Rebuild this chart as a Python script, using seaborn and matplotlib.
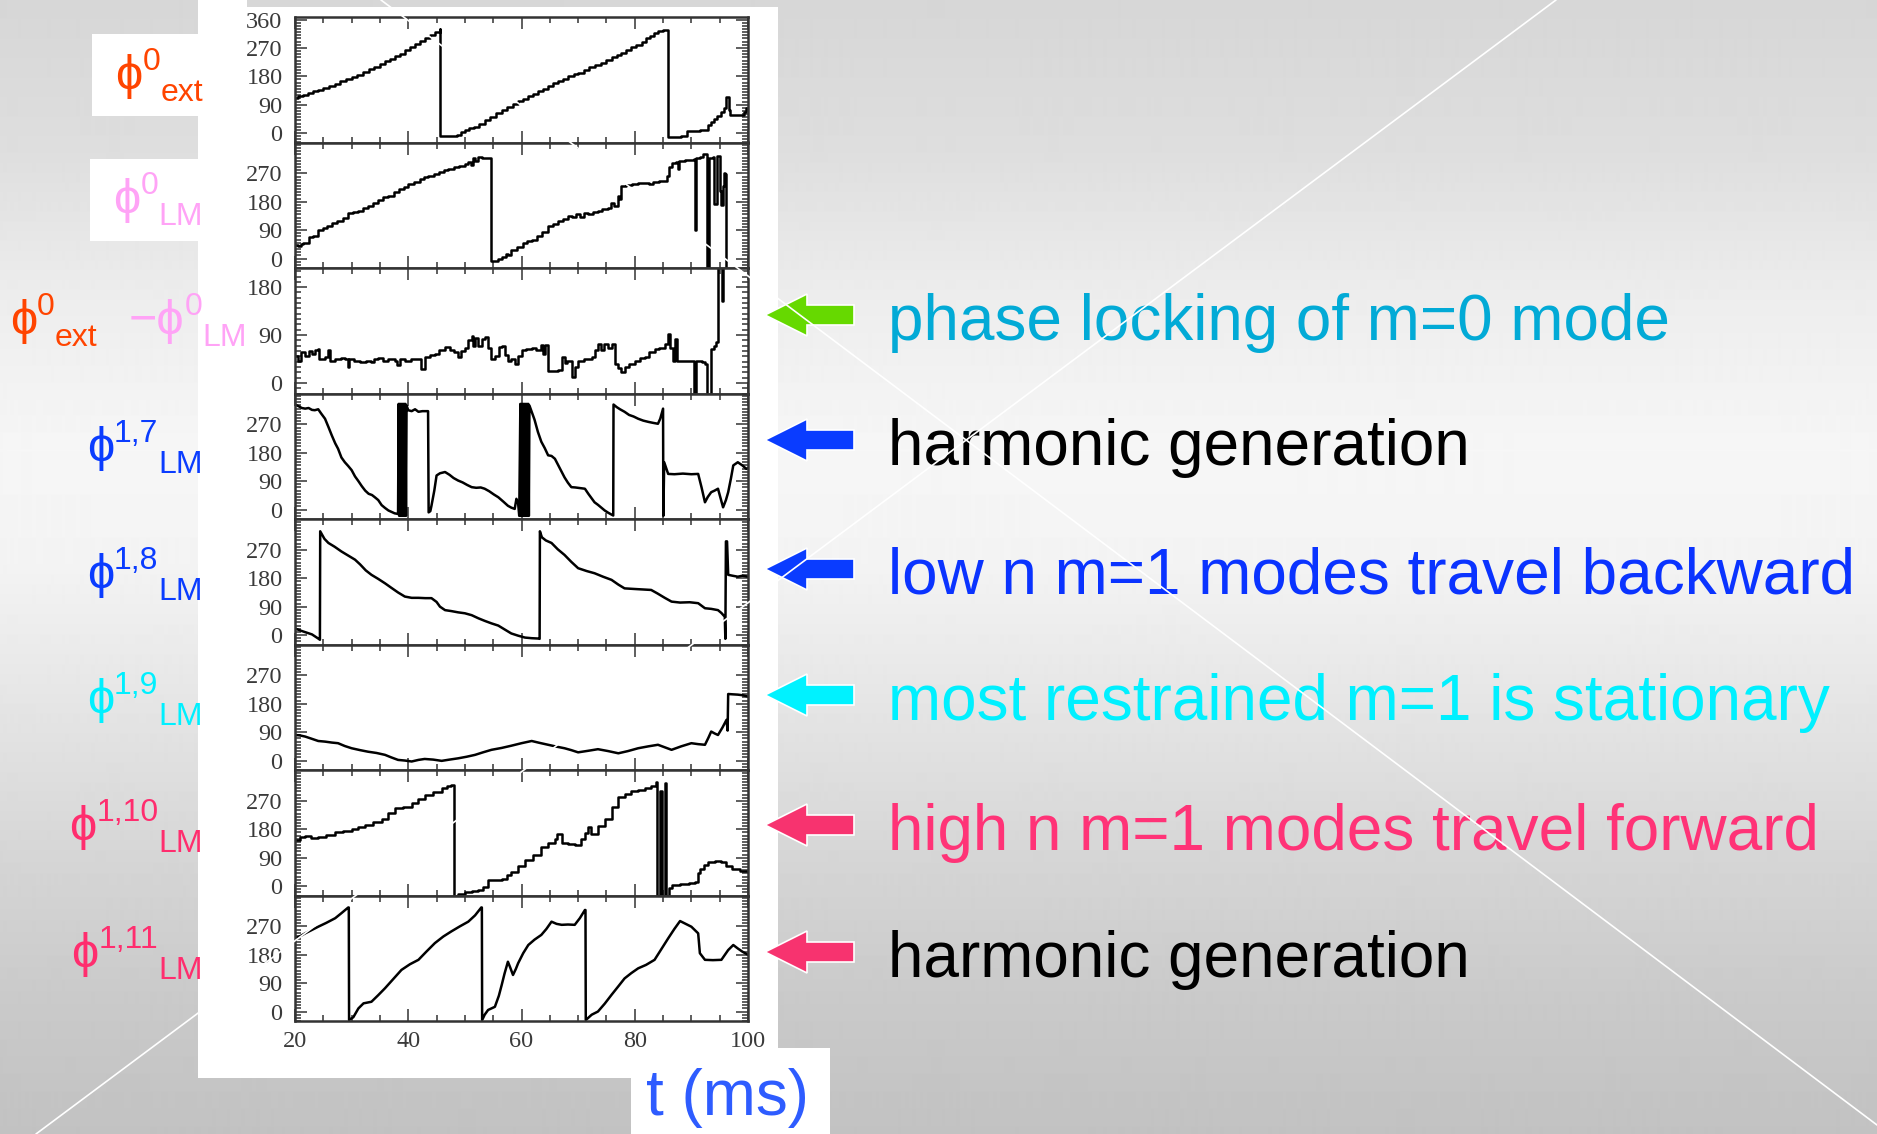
import numpy as np
import pandas as pd
import matplotlib
matplotlib.use("Agg")
import matplotlib.pyplot as plt
import seaborn as sns
from matplotlib.patches import Rectangle, Polygon
from matplotlib.ticker import MultipleLocator

# ---------------- data (time in ms, phase in degrees) ----------------
T_EXT = [20.0, 20.6, 21.4, 22.3, 23.2, 24.1, 25.0, 26.0, 27.0, 28.0,
         29.0, 30.0, 31.0, 32.0, 33.0, 34.0, 35.0, 35.9, 36.8, 37.7,
         38.6, 39.4, 40.3, 41.2, 42.0, 42.9, 43.8, 44.7, 45.6, 45.65,
         46.5, 47.5, 48.6, 49.3, 50.0, 50.8, 51.6, 52.5, 53.5, 54.5,
         55.5, 56.5, 57.5, 58.5, 59.4, 60.3, 61.2, 62.1, 62.9, 63.8,
         64.7, 65.6, 66.5, 67.4, 68.3, 69.2, 70.0, 71.0, 72.0, 73.0,
         74.1, 75.0, 76.0, 76.8, 77.6, 78.5, 79.4, 80.3, 81.2, 82.0,
         82.7, 83.4, 84.1, 85.0, 85.8, 85.85, 87.0, 88.2, 89.1, 89.2,
         90.5, 91.5, 92.3, 93.0, 93.5, 94.0, 94.6, 95.3, 95.8, 96.2,
         96.6, 96.9, 97.8, 98.8, 99.3, 99.7, 100.0]
PHI_EXT = [110, 116, 120, 126, 133, 138, 144, 150, 157, 164,
           170, 178, 185, 193, 202, 210, 218, 228, 236, 244,
           252, 262, 272, 282, 292, 302, 312, 322, 331, -8,
           -8, -8, -6, 2, 10, 16, 20, 30, 42, 50,
           62, 74, 84, 92, 101, 108, 116, 124, 132, 140,
           150, 158, 164, 172, 180, 186, 191, 200, 208, 215,
           223, 232, 240, 248, 254, 262, 272, 280, 290, 300,
           309, 318, 325, 328, 328, -12, -12, -10, -9, 8,
           8, 9, 10, 25, 36, 45, 54, 66, 80, 113,
           72, 58, 57, 56, 68, 80, 76]

T_LM0 = [20.0, 20.5, 21.0, 21.5, 22.4, 23.2, 24.1, 25.0, 25.7, 26.5,
         27.5, 28.4, 29.4, 30.3, 31.2, 32.0, 32.9, 33.8, 34.7, 35.6,
         36.5, 37.4, 38.3, 39.2, 40.0, 41.0, 42.0, 42.8, 43.5, 44.5,
         45.4, 46.3, 47.1, 48.0, 49.0, 50.0, 50.5, 51.0, 51.4, 51.8,
         52.3, 53.0, 54.5, 54.55, 55.2, 55.9, 56.5, 57.2, 57.6, 58.2,
         59.2, 60.2, 61.0, 61.8, 62.8, 63.6, 64.7, 65.5, 66.5, 67.3,
         68.2, 69.0, 69.6, 70.3, 71.0, 71.8, 72.6, 73.5, 74.2, 75.3,
         75.8, 76.3, 77.0, 77.3, 77.6, 78.5, 79.5, 80.5, 81.8, 82.5,
         83.2, 84.2, 85.3, 85.7, 86.1, 86.5, 87.2, 87.6, 87.9, 88.8,
         90.0, 90.5, 90.6, 90.8, 90.9, 91.5, 92.1, 92.6, 92.8, 93.0,
         93.2, 93.8, 94.0, 94.3, 94.5, 94.9, 95.0, 95.2, 95.5, 95.8,
         96.0, 96.2]
PHI_LM0 = [44, 40, 46, 50, 68, 70, 92, 98, 104, 113,
           120, 128, 143, 148, 152, 160, 166, 176, 186, 194,
           198, 210, 220, 228, 235, 244, 252, 258, 262, 268,
           274, 280, 283, 290, 294, 299, 305, 296, 318, 308,
           322, 320, 320, -9, -8, -3, 5, 15, 10, 28,
           36, 48, 55, 60, 72, 85, 103, 110, 118, 125,
           135, 132, 140, 133, 145, 140, 148, 150, 158, 161,
           175, 168, 198, 190, 230, 232, 236, 238, 241, 236,
           244, 245, 246, 262, 290, 304, 306, 285, 310, 313,
           314, 315, 90, 90, 318, 322, 331, 331, -40, -40,
           320, 322, 172, 172, 325, 325, 215, 170, 230, 270,
           268, -40]

T_DIFF = [20.0, 20.5, 21.0, 21.8, 22.4, 23.0, 23.5, 24.1, 24.3, 25.3,
          25.9, 26.2, 27.0, 28.2, 28.8, 29.3, 29.6, 30.5, 31.5, 32.5,
          33.5, 34.0, 34.7, 35.5, 36.5, 37.6, 38.1, 38.6, 39.5, 40.5,
          41.8, 42.3, 42.9, 43.8, 44.7, 45.5, 46.5, 47.3, 48.0, 48.8,
          49.4, 50.0, 50.6, 51.2, 51.5, 51.8, 52.4, 53.0, 53.5, 54.1,
          54.7, 55.3, 56.0, 56.5, 57.0, 57.6, 58.2, 58.8, 59.4, 60.0,
          60.8, 61.8, 62.6, 63.5, 63.8, 64.2, 64.7, 65.5, 66.4, 67.1,
          67.6, 68.0, 68.9, 69.4, 70.0, 71.0, 72.4, 73.0, 73.5, 74.0,
          74.5, 75.3, 75.9, 76.5, 77.0, 77.6, 78.3, 79.0, 80.0, 80.9,
          81.8, 82.6, 83.5, 84.3, 85.3, 85.9, 86.3, 86.8, 87.1, 87.4,
          88.5, 90.0, 90.4, 90.7, 90.9, 91.8, 92.4, 92.8, 93.1, 93.5,
          94.0, 94.4, 94.7, 95.2, 95.4, 95.6, 96.2]
PHI_DIFF = [51, 42, 58, 50, 60, 55, 62, 64, 45, 48,
            61, 42, 44, 46, 45, 30, 44, 42, 40, 42,
            39, 44, 47, 42, 45, 42, 33, 44, 42, 45,
            45, 27, 48, 52, 55, 62, 68, 62, 58, 48,
            60, 66, 80, 89, 70, 85, 70, 82, 86, 65,
            45, 50, 68, 70, 52, 42, 45, 36, 50, 61,
            64, 66, 62, 72, 55, 72, 23, 23, 24, 48,
            38, 42, 11, 30, 42, 45, 48, 62, 73, 62,
            73, 65, 73, 36, 28, 20, 30, 35, 42, 46,
            48, 58, 64, 66, 73, 92, 65, 42, 82, 42,
            42, 42, -25, -25, 42, 40, 36, -25, -25, 64,
            70, 76, 220, 220, 154, 220, 220]

T_17 = [20.0, 20.6, 21.2, 21.8, 22.4, 23.0, 23.5, 24.1, 24.6, 25.3,
        25.9, 26.5, 27.1, 27.6, 28.2, 28.8, 29.4, 30.0, 30.6, 31.2,
        31.8, 32.4, 33.0, 33.6, 34.1, 34.7, 35.3, 35.9, 36.5, 37.1,
        37.6, 38.2, 38.3, 38.4, 38.5, 38.6, 38.7, 38.8, 38.9, 39.0,
        39.1, 39.2, 39.3, 39.4, 39.5, 39.6, 39.7, 40.0, 40.6, 41.2,
        41.8, 42.5, 43.5, 43.6, 43.9, 44.1, 44.6, 45.0, 45.6, 46.5,
        47.3, 48.0, 48.8, 49.6, 50.4, 51.2, 52.0, 52.8, 53.5, 54.3,
        55.1, 55.9, 56.8, 57.6, 58.2, 58.8, 59.1, 59.4, 59.6, 59.8,
        59.9, 60.0, 60.1, 60.2, 60.3, 60.4, 60.5, 60.6, 60.7, 60.8,
        60.9, 61.0, 61.1, 61.2, 61.3, 61.4, 61.8, 62.3, 62.9, 63.5,
        64.1, 64.7, 65.3, 65.9, 66.5, 67.1, 67.6, 68.2, 68.8, 69.5,
        70.3, 71.2, 71.8, 72.4, 72.9, 73.5, 74.1, 74.7, 75.3, 75.9,
        76.2, 76.25, 76.8, 77.4, 78.2, 79.0, 79.8, 80.6, 81.5, 82.4,
        83.2, 84.1, 84.5, 85.0, 85.05, 85.2, 85.9, 87.0, 88.5, 90.0,
        91.2, 91.8, 92.4, 92.9, 93.5, 94.1, 94.7, 95.1, 95.6, 96.1,
        96.5, 97.0, 97.4, 98.2, 99.0, 99.7, 100.0]
PHI_17 = [333, 328, 322, 320, 322, 316, 315, 318, 305, 288,
          262, 235, 210, 193, 165, 150, 138, 125, 105, 90,
          74, 60, 50, 46, 39, 30, 14, 5, -3, -8,
          -12, -14, 335, -20, 335, -20, 335, -20, 335, -20,
          335, -20, 335, -20, 335, -20, 330, 315, 312, 318,
          310, 312, 312, -9, -5, 12, 60, 108, 115, 119,
          110, 100, 92, 86, 78, 71, 69, 70, 66, 58,
          48, 39, 25, 12, 6, 2, 34, 20, -20, 335,
          -20, 335, -20, 335, -20, 335, -20, 335, -20, 335,
          -20, 335, -20, 335, -20, 330, 310, 285, 246, 215,
          195, 172, 170, 161, 140, 119, 102, 85, 71, 70,
          68, 66, 50, 35, 23, 15, 6, -3, -10, -16,
          -19, 333, 325, 318, 310, 300, 295, 288, 282, 278,
          275, 272, 288, 320, -20, 150, 113, 112, 114, 112,
          113, 70, 23, 40, 55, 60, 66, 40, 7, 30,
          55, 100, 140, 150, 140, 129, 132]

T_18 = [20.0, 21.0, 22.0, 23.0, 24.1, 24.4, 24.45, 25.2, 25.9, 27.0,
        28.2, 29.4, 30.6, 31.5, 32.5, 33.5, 34.7, 35.9, 37.0, 38.2,
        39.4, 40.6, 41.8, 43.0, 44.1, 45.0, 45.6, 46.5, 47.6, 48.8,
        50.0, 51.2, 52.4, 53.5, 54.7, 55.9, 57.0, 58.2, 59.4, 60.6,
        61.8, 62.9, 63.2, 63.25, 63.6, 64.3, 65.3, 66.4, 67.6, 68.8,
        70.0, 71.5, 72.9, 74.4, 75.9, 77.1, 78.2, 80.0, 82.9, 84.0,
        85.3, 86.5, 88.0, 89.7, 91.2, 92.4, 93.5, 94.7, 95.3, 95.9,
        96.0, 96.1, 96.3, 96.5, 97.3, 98.2, 99.0, 100.0]
PHI_18 = [21, 14, 8, 2, -11, -15, 329, 305, 292, 280,
          265, 252, 239, 224, 205, 191, 178, 164, 150, 135,
          122, 118, 118, 117, 117, 105, 90, 79, 76, 72,
          69, 63, 53, 45, 37, 30, 18, 5, -2, -8,
          -10, -11, -12, 329, 310, 300, 292, 272, 254, 232,
          212, 203, 196, 185, 175, 160, 148, 146, 143, 132,
          118, 106, 103, 104, 101, 85, 83, 79, 70, 58,
          -12, 297, 297, 191, 188, 185, 188, 185]

T_19 = [20.0, 20.8, 21.8, 22.8, 24.1, 25.3, 26.5, 27.6, 28.8, 30.0,
        31.5, 32.9, 34.4, 35.9, 37.0, 38.2, 39.4, 40.6, 41.8, 42.9,
        44.4, 45.9, 47.3, 48.8, 50.3, 51.8, 53.2, 54.7, 56.5, 58.2,
        60.0, 61.8, 63.2, 64.7, 66.2, 67.6, 68.8, 70.0, 71.8, 73.5,
        75.3, 77.1, 78.8, 80.6, 82.4, 84.1, 85.3, 86.5, 88.2, 90.0,
        91.2, 92.4, 93.0, 93.5, 94.1, 94.7, 95.5, 96.2, 96.4, 96.5,
        97.3, 98.2, 99.1, 100.0]
PHI_19 = [81, 80, 76, 70, 62, 60, 57, 55, 46, 39,
          33, 28, 24, 18, 10, 2, 0, -3, 2, 5,
          3, -1, 3, 7, 12, 18, 26, 34, 40, 47,
          55, 62, 56, 50, 44, 39, 33, 26, 31, 36,
          30, 23, 30, 39, 45, 50, 42, 34, 45, 55,
          52, 50, 72, 92, 86, 81, 105, 129, 95, 211,
          210, 209, 207, 203]

T_110 = [20.0, 20.8, 21.8, 22.9, 24.1, 25.5, 27.1, 28.5, 30.0, 31.2,
         32.4, 33.8, 35.3, 36.5, 37.6, 39.0, 40.6, 41.7, 42.9, 44.4,
         45.9, 46.8, 47.6, 47.9, 48.0, 48.8, 50.0, 51.2, 52.4, 53.2,
         54.1, 55.3, 56.5, 57.4, 58.2, 59.4, 60.6, 62.0, 63.5, 64.7,
         65.9, 66.3, 67.1, 68.2, 69.4, 70.5, 71.3, 71.8, 72.3, 73.5,
         74.7, 75.9, 77.1, 78.2, 79.4, 80.6, 81.8, 82.8, 83.8, 84.0,
         84.3, 84.4, 84.7, 84.8, 85.2, 85.3, 85.6, 86.0, 86.5, 88.0,
         89.5, 90.6, 91.1, 91.5, 92.2, 93.0, 94.2, 95.3, 96.2, 97.1,
         98.5, 100.0]
PHI_110 = [145, 155, 159, 153, 156, 163, 172, 176, 182, 188,
           193, 203, 214, 232, 246, 252, 262, 275, 288, 298,
           310, 318, 322, 322, -30, -25, -19, -16, -14, -2,
           18, 20, 23, 35, 44, 62, 81, 100, 124, 138,
           150, 165, 135, 132, 129, 150, 168, 188, 166, 190,
           214, 250, 283, 292, 301, 305, 310, 318, 329, -30,
           -30, 300, 300, -30, -30, 326, -30, -5, 2, 6,
           10, 12, 40, 55, 68, 76, 78, 76, 65, 53,
           48, 44]

T_111 = [20.0, 20.8, 21.8, 22.9, 24.1, 25.5, 27.1, 28.2, 29.4, 29.5,
         29.55, 30.3, 31.2, 32.1, 33.5, 34.7, 35.9, 37.3, 38.8, 40.3,
         41.8, 43.2, 44.7, 46.2, 47.6, 49.1, 50.6, 51.8, 52.9, 53.0,
         53.05, 53.5, 54.1, 55.3, 56.0, 56.5, 57.0, 57.6, 58.0, 58.5,
         59.0, 59.4, 60.3, 61.2, 62.3, 63.5, 64.4, 65.3, 66.2, 67.1,
         68.2, 69.4, 70.3, 71.2, 71.3, 71.35, 72.4, 73.5, 74.7, 75.9,
         77.1, 78.2, 79.4, 80.6, 82.0, 83.5, 84.7, 85.9, 87.0, 88.0,
         89.0, 90.0, 91.2, 91.5, 92.4, 93.8, 95.3, 96.5, 97.4, 98.2,
         99.0, 100.0]
PHI_111 = [232, 238, 248, 258, 269, 281, 296, 312, 330, 330,
           -27, -18, 10, 26, 31, 52, 74, 102, 132, 150,
           164, 190, 217, 238, 254, 270, 285, 305, 330, 330,
           -27, -10, 5, 15, 50, 84, 120, 158, 140, 116,
           135, 153, 185, 211, 228, 243, 262, 285, 278, 275,
           276, 275, 296, 322, 322, -27, -10, 0, 25, 53,
           80, 105, 122, 137, 148, 164, 198, 232, 262, 287,
           278, 269, 248, 185, 164, 163, 164, 195, 211, 200,
           190, 180]

X_TICKS = [20, 40, 60, 80, 100]
Y_TICKS_FULL = [0, 90, 180, 270, 360]
Y_TICKS = [0, 90, 180, 270]
Y_TICKS_DIFF = [0, 90, 180]

ANNOTATIONS = ["phase locking of m=0 mode", "harmonic generation",
               "low n m=1 modes travel backward", "most restrained m=1 is stationary",
               "high n m=1 modes travel forward", "harmonic generation"]

# ---------------- style ----------------
sns.set_theme(style="white")
plt.rcParams["font.family"] = ["Liberation Sans", "DejaVu Sans"]

W, H = 1877, 1134
fig = plt.figure(figsize=(W / 100, H / 100), dpi=100)

# background (slide)
bg = fig.add_axes([0, 0, 1, 1], zorder=-10)
bg.set_xlim(0, W)
bg.set_ylim(H, 0)
bg.axis("off")
ys = np.arange(H)
grad = np.interp(ys, [0, 150, 300, 450, 560, 700, 850, 1000, 1134],
                 [0.84, 0.87, 0.93, 0.965, 0.955, 0.90, 0.84, 0.79, 0.76])
bg.imshow(np.repeat(grad[:, None], 2, axis=1), cmap="gray", vmin=0, vmax=1,
          extent=[0, W, H, 0], aspect="auto", interpolation="bilinear", zorder=0)
for (x0, y0, w, h) in [(198, 7, 580, 1071), (198, 0, 49, 7), (92, 34, 108, 82),
                       (90, 159, 110, 82), (631, 1048, 199, 86)]:
    bg.add_patch(Rectangle((x0, y0), w, h, facecolor="white", edgecolor="none", zorder=1))

# ---------------- panels ----------------
# (time, phase, y-limits, y ticks, staircase drawing)
panels = [
    (T_EXT, PHI_EXT, (-30, 368), Y_TICKS_FULL, True),
    (T_LM0, PHI_LM0, (-30, 368), Y_TICKS, True),
    (T_DIFF, PHI_DIFF, (-20, 216), Y_TICKS_DIFF, True),
    (T_17, PHI_17, (-30, 368), Y_TICKS, False),
    (T_18, PHI_18, (-30, 368), Y_TICKS, False),
    (T_19, PHI_19, (-30, 368), Y_TICKS, False),
    (T_110, PHI_110, (-30, 368), Y_TICKS, True),
    (T_111, PHI_111, (-30, 368), Y_TICKS, False),
]
AX_L, AX_R, AX_T, AX_B = 295, 748, 17, 1021
ph = (AX_B - AX_T) / len(panels)
spine_c = "#333333"
for i, (tt, vv, ylim, yt, stairs) in enumerate(panels):
    top = AX_T + i * ph
    ax = fig.add_axes([AX_L / W, 1 - (top + ph) / H, (AX_R - AX_L) / W, ph / H])
    ax.set_facecolor("white")
    df = pd.DataFrame({"t": tt, "phi": vv})
    sns.lineplot(data=df, x="t", y="phi", ax=ax, color="black", lw=1.8,
                 sort=False, estimator=None, legend=False,
                 drawstyle="steps-post" if stairs else "default")
    ax.set_xlim(20, 100)
    ax.set_ylim(*ylim)
    ax.set_xlabel("")
    ax.set_ylabel("")
    ax.xaxis.set_minor_locator(MultipleLocator(5))
    ax.yaxis.set_minor_locator(MultipleLocator(10))
    ax.set_yticks(yt)
    ax.set_yticklabels([str(v) for v in yt], fontfamily="Liberation Serif",
                       fontsize=17.5, color="#3a3a3a")
    ax.set_xticks(X_TICKS)
    if i == len(panels) - 1:
        ax.set_xticklabels([str(v) for v in X_TICKS], fontfamily="Liberation Serif",
                           fontsize=17.5, color="#3a3a3a")
    else:
        ax.set_xticklabels([])
    ax.tick_params(which="both", direction="in", top=True, right=True,
                   bottom=True, left=True, color=spine_c, width=1.1)
    ax.tick_params(which="major", length=8.5)
    ax.tick_params(which="minor", length=4.3)
    ax.tick_params(axis="y", pad=9)
    ax.tick_params(axis="x", pad=7)
    for sp in ax.spines.values():
        sp.set_color(spine_c)
        sp.set_linewidth(1.8)

# ---------------- left labels (phi with superscript and trailing subscript) ----------------
C_EXT = "#FF4400"
C_LM0 = "#FFA3F6"
C_BLUE = "#0A3CFF"
C_CYAN = "#00F0FF"
C_PINK = "#FF2D6E"
FAM = ["Liberation Sans", "DejaVu Sans"]
renderer = fig.canvas.get_renderer()
BIG, SMALL = 35, 23


def compose(x, yb, parts, anchor):
    items = []
    for s, size, dy, col in parts:
        t = bg.text(0, yb + dy, s, fontsize=size, color=col, family=FAM,
                    ha="left", va="baseline", zorder=3)
        items.append((t, t.get_window_extent(renderer).width))
    total = sum(w for _, w in items)
    cx = x - total if anchor == "right" else x
    for t, w in items:
        t.set_x(cx)
        cx += w


def phi_parts(sup, sub, col, lead=""):
    return [(lead + "ϕ", BIG, 0, col), (sup, SMALL, -19, col), (sub, SMALL, 12, col)]


compose(203, 89, phi_parts("0", "ext", C_EXT), "right")
compose(203, 213, phi_parts("0", "LM", C_LM0), "right")
compose(10, 334, phi_parts("0", "ext", C_EXT), "left")
compose(247, 334, phi_parts("0", "LM", C_LM0, lead="−"), "right")
for sup, yb, col in [("1,7", 461, C_BLUE), ("1,8", 588, C_BLUE), ("1,9", 713, C_CYAN),
                     ("1,10", 840, C_PINK), ("1,11", 967, C_PINK)]:
    compose(203, yb, phi_parts(sup, "LM", col), "right")

# ---------------- arrows + annotations ----------------
arrow_y = [315, 440, 569, 695, 825, 952]
arrow_c = ["#66D900", C_BLUE, C_BLUE, "#00F2FF", "#F7336F", "#F7336F"]
text_c = ["#02AAD6", "black", "#0A33FF", "#00F0FF", "#FF3377", "black"]
for yc, ac, txt, tc in zip(arrow_y, arrow_c, ANNOTATIONS, text_c):
    pts = [(765, yc), (807, yc - 21), (807, yc - 10), (854, yc - 10),
           (854, yc + 10), (807, yc + 10), (807, yc + 21)]
    bg.add_patch(Polygon(pts, closed=True, facecolor=ac, edgecolor="white", lw=1.2, zorder=3))
    bg.text(888, yc + 25, txt, color=tc, fontsize=46, ha="left", va="baseline", zorder=3)

bg.text(646, 1115, "t (ms)", color="#2E5CFF", fontsize=46, ha="left", va="baseline", zorder=3)

# ---------------- thin white slide lines on top ----------------
ov = fig.add_axes([0, 0, 1, 1], zorder=20)
ov.set_xlim(0, W)
ov.set_ylim(H, 0)
ov.axis("off")
ov.plot([381, 1877], [0, 1125], color="white", lw=1.2)
ov.plot([1556, 36], [0, 1134], color="white", lw=1.2)

fig.savefig("out.png", dpi=100)
